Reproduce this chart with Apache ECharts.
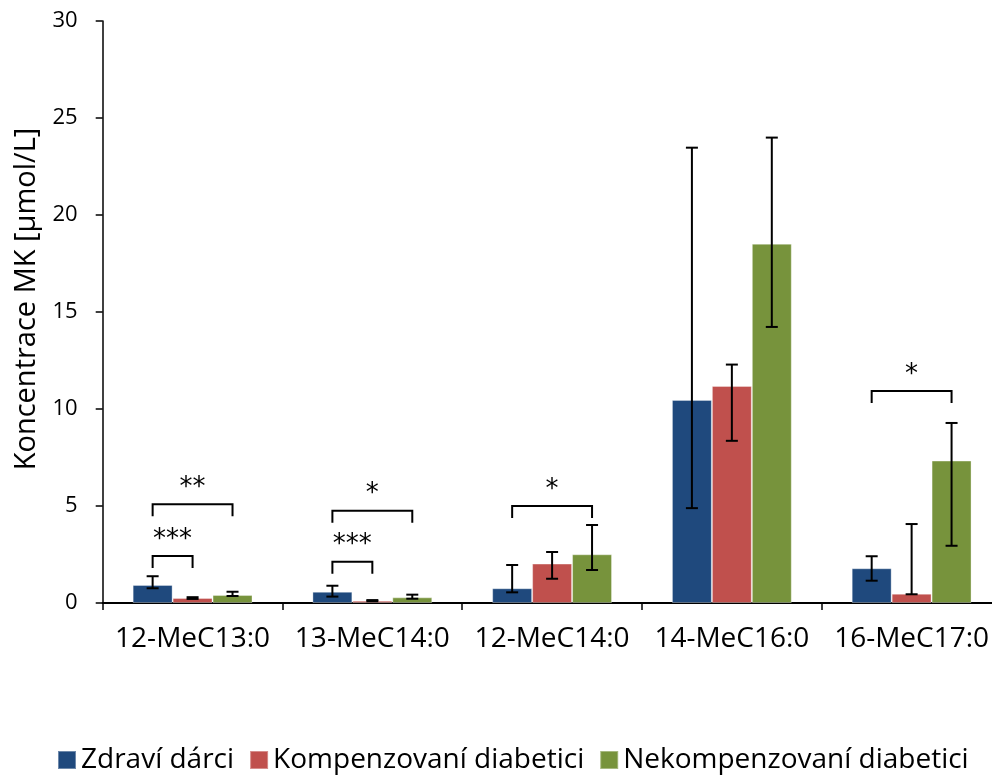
<!DOCTYPE html>
<html>
<head>
<meta charset="utf-8">
<script src="https://cdn.jsdelivr.net/npm/echarts@6/dist/echarts.min.js"></script>
<style>
html,body{margin:0;padding:0;background:#fff;overflow:hidden;width:992px;height:776px;}
#chart{width:1002px;height:776px;}
</style>
</head>
<body>
<div id="chart"></div>
<script>
// ---- data ----
var categories = ['12-MeC13:0', '13-MeC14:0', '12-MeC14:0', '14-MeC16:0', '16-MeC17:0'];
var seriesNames = ['Zdraví dárci', 'Kompenzovaní diabetici', 'Nekompenzovaní diabetici'];

var zdravi      = [0.93, 0.58, 0.76, 10.47, 1.79];
var zdraviLow   = [0.76, 0.33, 0.55, 4.89, 1.15];
var zdraviHigh  = [1.38, 0.89, 1.96, 23.47, 2.41];

var kompenz     = [0.26, 0.12, 2.03, 11.19, 0.48];
var kompenzLow  = [0.21, 0.09, 1.25, 8.36, 0.45];
var kompenzHigh = [0.30, 0.15, 2.63, 12.29, 4.07];

var nekomp      = [0.41, 0.29, 2.51, 18.52, 7.34];
var nekompLow   = [0.36, 0.22, 1.70, 14.23, 2.95];
var nekompHigh  = [0.58, 0.43, 4.02, 23.99, 9.28];

// significance brackets
var bracketCats   = [0, 0, 1, 1, 2, 4];
var bracketFrom   = [0, 0, 0, 0, 0, 0];
var bracketTo     = [2, 1, 2, 1, 2, 2];
var bracketLevels = [5.09, 2.42, 4.76, 2.13, 5.0, 10.93];
var bracketLabels = ['**', '***', '*', '***', '*', '*'];

var yTicks = [0, 5, 10, 15, 20, 25, 30];

// ---- chart ----
var colors = ['#1F497D', '#C0504D', '#77933C'];
var values = [zdravi, kompenz, nekomp];
var lows = [zdraviLow, kompenzLow, nekompLow];
var highs = [zdraviHigh, kompenzHigh, nekompHigh];
var GAP = 1 / 3;

function barOffset(api, idx) {
  var band = api.size([1, 0])[0];
  var bw = band * (1 - GAP) / 3;
  return { off: (idx - 1) * bw, bw: bw };
}

var series = [];
for (var s = 0; s < 3; s++) {
  series.push({
    name: seriesNames[s],
    type: 'bar',
    data: values[s],
    barGap: '0%',
    barCategoryGap: (GAP * 100) + '%',
    itemStyle: { color: colors[s], borderColor: 'rgba(255,255,255,0.35)', borderWidth: 1 },
    emphasis: { disabled: true },
    z: 2
  });
}
for (var s2 = 0; s2 < 3; s2++) {
  (function (idx) {
    var d = categories.map(function (c, i) { return [i, lows[idx][i], highs[idx][i]]; });
    series.push({
      type: 'custom',
      data: d,
      z: 5,
      silent: true,
      renderItem: function (params, api) {
        var o = barOffset(api, idx);
        var p1 = api.coord([api.value(0), api.value(1)]);
        var p2 = api.coord([api.value(0), api.value(2)]);
        var x = p1[0] + o.off;
        var cap = 6;
        var st = { stroke: '#000', lineWidth: 2 };
        return {
          type: 'group',
          children: [
            { type: 'line', shape: { x1: x, y1: p1[1], x2: x, y2: p2[1] }, style: st },
            { type: 'line', shape: { x1: x - cap, y1: p1[1], x2: x + cap, y2: p1[1] }, style: st },
            { type: 'line', shape: { x1: x - cap, y1: p2[1], x2: x + cap, y2: p2[1] }, style: st }
          ]
        };
      }
    });
  })(s2);
}

series.push({
  type: 'custom',
  silent: true,
  z: 6,
  data: bracketCats.map(function (c, i) { return [c, bracketLevels[i], bracketFrom[i], bracketTo[i]]; }),
  renderItem: function (params, api) {
    var i = params.dataIndex;
    var cat = api.value(0);
    var p = api.coord([cat, api.value(1)]);
    var a = barOffset(api, api.value(2));
    var b = barOffset(api, api.value(3));
    var x1 = p[0] + a.off, x2 = p[0] + b.off, y = p[1];
    var leg = 12;
    return {
      type: 'group',
      children: [
        { type: 'polyline', shape: { points: [[x1, y + leg], [x1, y], [x2, y], [x2, y + leg]] },
          style: { stroke: '#000', lineWidth: 2, fill: null } },
        { type: 'text', style: { text: bracketLabels[i], x: (x1 + x2) / 2, y: y - 16,
          align: 'center', verticalAlign: 'middle', fill: '#000',
          font: '26px "DejaVu Sans"' } }
      ]
    };
  }
});

var chart = echarts.init(document.getElementById('chart'), null, { renderer: 'canvas' });
chart.setOption({
  animation: false,
  backgroundColor: '#fff',
  textStyle: { fontFamily: '"Open Sans", sans-serif', color: '#000' },
  grid: { left: 102.7, top: 21, bottom: 173, right: 0.5, containLabel: false },
  legend: {
    data: seriesNames,
    left: 52,
    top: 741,
    icon: 'rect',
    itemWidth: 18,
    itemHeight: 18,
    itemGap: 15,
    selectedMode: false,
    textStyle: { fontSize: 28, color: '#000', fontFamily: '"Open Sans", sans-serif' }
  },
  xAxis: {
    type: 'category',
    data: categories,
    axisLine: { lineStyle: { color: '#000', width: 2 } },
    axisTick: { show: true, length: 7, lineStyle: { color: '#000', width: 1.5 } },
    axisLabel: { interval: 0, fontSize: 28, color: '#000', margin: 22, fontFamily: '"Open Sans", sans-serif' },
    splitLine: { show: false }
  },
  yAxis: {
    type: 'value',
    min: yTicks[0],
    max: yTicks[yTicks.length - 1],
    interval: yTicks[1] - yTicks[0],
    name: 'Koncentrace MK [µmol/L]',
    nameLocation: 'middle',
    nameGap: 56,
    nameTextStyle: { fontSize: 29, color: '#000', fontFamily: '"Open Sans", sans-serif', padding: [0, 0, 0, 26] },
    axisLine: { show: true, lineStyle: { color: '#000', width: 1.5 } },
    axisTick: { show: true, length: 7, lineStyle: { color: '#000', width: 1.5 } },
    axisLabel: { fontSize: 22, color: '#000', margin: 25, fontFamily: '"Open Sans", sans-serif' },
    splitLine: { show: false }
  },
  series: series
});
</script>
</body>
</html>
